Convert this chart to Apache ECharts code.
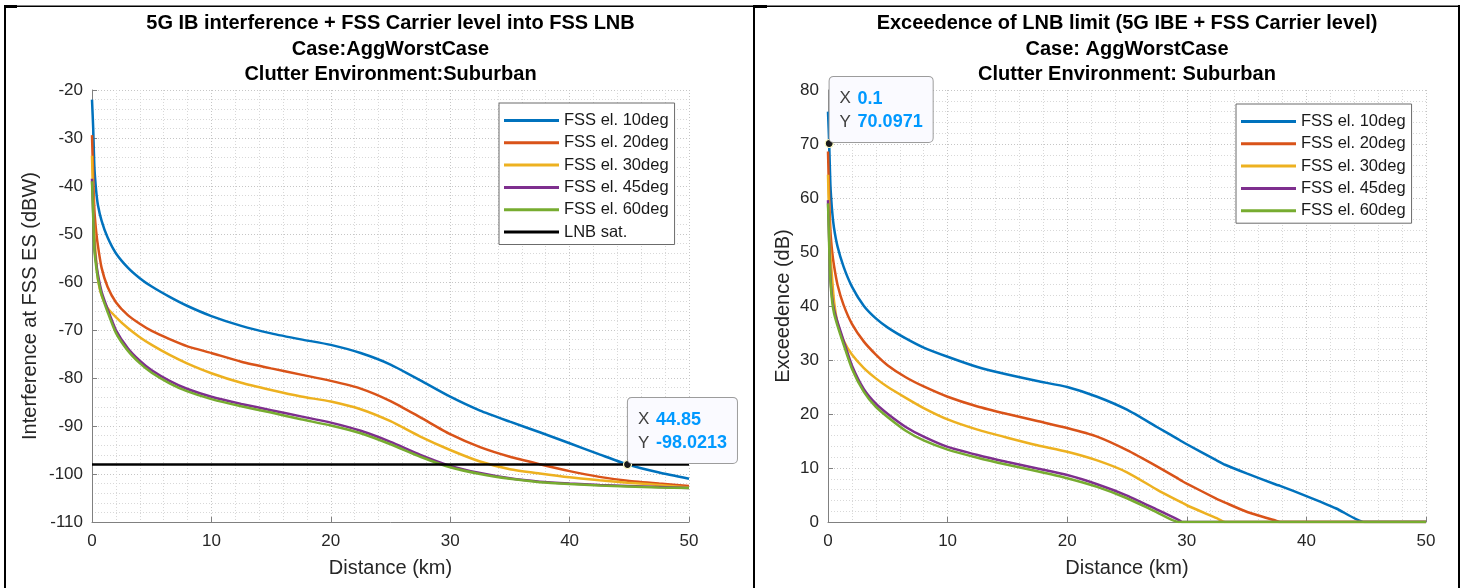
<!DOCTYPE html>
<html>
<head>
<meta charset="utf-8">
<title>5G IB interference and LNB exceedance</title>
<script src="https://cdn.jsdelivr.net/npm/echarts/dist/echarts.min.js"></script>
<style>
  html, body { margin: 0; padding: 0; background: #ffffff; }
  #chart { width: 1467px; height: 588px; }
</style>
</head>
<body>
<div id="chart"></div>
<script>
// ---- Data -------------------------------------------------------------
// Distance from the 5G base stations (km)
const distanceKm = [0, 0.1, 0.2, 0.35, 0.5, 0.8, 1.3, 2, 3, 4, 5, 6.5, 8, 10, 12.5,
  15, 17.5, 20, 22.5, 25, 27.5, 30, 32.5, 35, 37.5, 40, 42.5, 44.85, 47.5, 50];

// 5G IB interference + FSS carrier level at the FSS ES (dBW)
const interfEl10 = [-22, -27.9242, -36, -41.0, -44.0, -47.2, -50.7, -54, -57.0, -59.2, -60.95,
  -63.1, -65.0, -67.1, -69.15, -70.7, -71.95, -73.1, -74.8, -77.2, -80.5, -83.9, -86.8, -89.1,
  -91.3, -93.6, -95.9, -98.0213, -99.7, -101.0];
const interfEl20 = [-29.4, -38, -45, -49.5, -52.5, -57.0, -61.0, -64.2, -66.9, -68.7, -70.2,
  -71.9, -73.4, -74.8, -76.6, -78.0, -79.3, -80.6, -82.2, -84.8, -88.2, -91.7, -94.4, -96.4,
  -97.95, -99.4, -100.6, -101.4, -102.0, -102.5];
const interfEl30 = [-33.7, -43, -50, -55.5, -59.5, -62.8, -65.4, -67.3, -69.6, -71.5, -73.1,
  -75.2, -77.0, -79.0, -81.0, -82.5, -83.85, -84.9, -86.5, -89.0, -92.2, -95.0, -97.4, -99.0,
  -99.9, -100.7, -101.3, -101.8, -102.3, -102.8];
const interfEl45 = [-38.5, -45.5, -52.6, -56, -58.5, -62.0, -65.6, -70.0, -73.8, -76.4, -78.4,
  -80.6, -82.3, -83.9, -85.4, -86.7, -88.0, -89.3, -91.0, -93.3, -96.0, -98.3, -99.8, -100.9,
  -101.6, -102.0, -102.3, -102.5, -102.7, -102.9];
const interfEl60 = [-39, -46.5, -53.3, -56.8, -59.3, -62.6, -66.2, -70.6, -74.3, -76.9, -78.9,
  -81.1, -82.8, -84.4, -85.9, -87.2, -88.6, -89.9, -91.5, -93.8, -96.4, -98.6, -100.0, -101.0,
  -101.7, -102.1, -102.4, -102.6, -102.8, -102.9];

// LNB saturation level (dBW)
const lnbSatLevel = -98.0;

// Distance samples for the exceedance curves (km)
const distanceKmExc = [0, 0.1, 0.2, 0.35, 0.5, 0.8, 1.3, 2, 3, 4, 5, 6.5, 8, 10, 12.5, 15,
  17.5, 20, 22.5, 25, 27.5, 29.3, 29.6, 30, 32.5, 33.2, 35, 37.5, 37.8, 40, 42.5, 44.85, 47.5, 50];

// Exceedance of the LNB limit (dB)
const excEl10 = [76.0, 70.0971, 62.5, 57.5, 54.5, 51.0, 47.3, 43.6, 40.0, 37.7, 36.0, 34.0,
  32.3, 30.6, 28.7, 27.3, 26.1, 25.0, 23.2, 20.8, 17.6, 15.3, 14.9, 14.4, 11.4, 10.6, 9.0,
  6.9, 6.7, 4.8, 2.5, 0, 0, 0];
const excEl20 = [68.6, 60, 54.0, 50.0, 47.5, 43.9, 40.2, 36.7, 33.4, 31.0, 29.0, 26.8,
  25.1, 23.2, 21.4, 20.0, 18.7, 17.4, 15.8, 13.3, 10.3, 8.0, 7.6, 7.1, 4.3, 3.6, 1.9,
  0.2, 0, 0, 0, 0, 0, 0];
const excEl30 = [64.3, 56, 49.5, 45, 41.0, 36.8, 33.6, 31.0, 28.5, 26.6, 25.0, 23.0,
  21.1, 19.0, 17.1, 15.6, 14.2, 13.0, 11.4, 9.2, 6.0, 3.9, 3.6, 3.1, 0.7, 0, 0,
  0, 0, 0, 0, 0, 0, 0];
const excEl45 = [59.6, 52, 45.4, 41.5, 39.4, 37.0, 33.6, 29.0, 24.6, 21.9, 20.0, 17.6,
  15.8, 13.9, 12.4, 11.1, 9.9, 8.7, 7.0, 4.9, 2.3, 0.4, 0, 0, 0, 0, 0,
  0, 0, 0, 0, 0, 0, 0];
const excEl60 = [59.0, 51, 44.7, 40.8, 38.7, 36.3, 32.9, 28.4, 24.1, 21.3, 19.4, 16.9,
  15.1, 13.4, 11.9, 10.6, 9.4, 8.1, 6.5, 4.4, 1.8, 0, 0, 0, 0, 0, 0,
  0, 0, 0, 0, 0, 0, 0];

const seriesNames = ['FSS el. 10deg', 'FSS el. 20deg', 'FSS el. 30deg', 'FSS el. 45deg', 'FSS el. 60deg'];
const lnbName = 'LNB sat.';

// Data tips
const tipInterf = { x: 44.85, y: -98.0213 };
const tipExc = { x: 0.1, y: 70.0971 };

// ---- Styling ------------------------------------------------------------
const FONT = '"Liberation Sans", Arial, Helvetica, sans-serif';
const lineColors = ['#0072BD', '#D95319', '#EDB120', '#7E2F8E', '#77AC30'];
const axisGray = '#808080';
const textDark = '#262626';

function pairs(xs, ys) { return xs.map((x, i) => [x, ys[i]]); }

function xAxisCfg(gridIndex) {
  return {
    type: 'value', gridIndex, min: 0, max: 50, interval: 10,
    name: 'Distance (km)', nameLocation: 'middle', nameGap: 36,
    nameTextStyle: { fontSize: 20, color: textDark, fontFamily: FONT },
    axisLine: { show: true, onZero: false, lineStyle: { color: axisGray, width: 1 } },
    axisTick: { show: true, inside: true, length: 5, lineStyle: { color: axisGray } },
    axisLabel: { color: textDark, fontSize: 17, fontFamily: FONT, margin: 11 },
    splitLine: { show: true, lineStyle: { color: '#c6c6c6', type: [1, 2], width: 1 } },
    minorTick: { show: false, splitNumber: 5 },
    minorSplitLine: { show: true, lineStyle: { color: '#d8d8d8', type: [1, 2], width: 1 } }
  };
}

function yAxisCfg(gridIndex, min, max, name, gap) {
  return {
    type: 'value', gridIndex, min, max, interval: 10,
    name, nameLocation: 'middle', nameGap: gap,
    nameTextStyle: { fontSize: 20, color: textDark, fontFamily: FONT },
    axisLine: { show: true, onZero: false, lineStyle: { color: axisGray, width: 1 } },
    axisTick: { show: true, inside: true, length: 5, lineStyle: { color: axisGray } },
    axisLabel: { color: textDark, fontSize: 17, fontFamily: FONT, margin: 9 },
    splitLine: { show: true, lineStyle: { color: '#c6c6c6', type: [1, 2], width: 1 } },
    minorTick: { show: false, splitNumber: 5 },
    minorSplitLine: { show: true, lineStyle: { color: '#d8d8d8', type: [1, 2], width: 1 } }
  };
}

function lineSeries(name, data, color, axisIdx) {
  return {
    type: 'line', name, data, xAxisIndex: axisIdx, yAxisIndex: axisIdx,
    symbol: 'none', showSymbol: false, clip: true,
    smooth: 0.2,
    lineStyle: { width: 2.5, color }, itemStyle: { color },
    emphasis: { disabled: true }, animation: false
  };
}

function dataTip(pt) {
  return {
    symbol: 'circle', symbolSize: 8, animation: false,
    itemStyle: { color: '#1a1a1a', borderColor: '#ffffc4', borderWidth: 1.2 },
    label: {
      show: true, position: [4, 4], align: 'left', verticalAlign: 'bottom', offset: [1, -1],
      backgroundColor: '#fafaff', borderColor: '#9c9c9c', borderWidth: 1, borderRadius: 4,
      padding: [10, 10, 8, 10],
      formatter: '{k|X}{v|' + pt.x + '}\n{k|Y}{v|' + pt.y + '}',
      rich: {
        k: { width: 18, fontSize: 17, color: '#404040', fontFamily: FONT, lineHeight: 23.5 },
        v: { fontSize: 18, fontWeight: 'bold', color: '#0099ff', fontFamily: FONT, lineHeight: 23.5 }
      }
    },
    data: [{ coord: [pt.x, pt.y] }]
  };
}

function legendCfg(left, top, names) {
  return {
    orient: 'vertical', left, top, data: names,
    icon: 'rect', itemWidth: 55, itemHeight: 3, itemGap: 5.3,
    padding: [9, 6, 4, 5],
    borderColor: '#6b6b6b', borderWidth: 1, backgroundColor: '#ffffff',
    selectedMode: false,
    textStyle: { fontSize: 16.5, color: '#1a1a1a', fontFamily: FONT, lineHeight: 16 }
  };
}

const titleStyle = { fontSize: 20, fontWeight: 'bold', color: '#000000', fontFamily: FONT, lineHeight: 25.5 };

const interfSets = [interfEl10, interfEl20, interfEl30, interfEl45, interfEl60];
const excSets = [excEl10, excEl20, excEl30, excEl45, excEl60];

const series = [];
interfSets.forEach((ys, i) => series.push(lineSeries(seriesNames[i], pairs(distanceKm, ys), lineColors[i], 0)));
series.push(lineSeries(lnbName, [[0, lnbSatLevel], [50, lnbSatLevel]], '#000000', 0));
excSets.forEach((ys, i) => series.push(lineSeries(seriesNames[i], pairs(distanceKmExc, ys), lineColors[i], 1)));
series[0].markPoint = dataTip(tipInterf);
series[6].markPoint = dataTip(tipExc);

const option = {
  backgroundColor: '#ffffff',
  animation: false,
  title: [
    { text: '5G IB interference + FSS Carrier level into FSS LNB\nCase:AggWorstCase\nClutter Environment:Suburban',
      left: 390.5, top: 11, textAlign: 'center', padding: 0, textStyle: titleStyle },
    { text: 'Exceedence of LNB limit (5G IBE + FSS Carrier level)\nCase: AggWorstCase\nClutter Environment: Suburban',
      left: 1127, top: 11, textAlign: 'center', padding: 0, textStyle: titleStyle }
  ],
  grid: [
    { left: 92, top: 90, width: 597, height: 432 },
    { left: 828, top: 90, width: 598, height: 432 }
  ],
  xAxis: [xAxisCfg(0), xAxisCfg(1)],
  yAxis: [
    yAxisCfg(0, -110, -20, 'Interference at FSS ES (dBW)', 52),
    yAxisCfg(1, 0, 80, 'Exceedence (dB)', 35)
  ],
  legend: [
    legendCfg(499, 103, seriesNames.concat([lnbName])),
    legendCfg(1236, 104, seriesNames)
  ],
  // table cell borders around the two panels
  graphic: [
    { type: 'rect', shape: { x: 4, y: 5.5, width: 1456, height: 1.5 }, style: { fill: '#000' } },
    { type: 'rect', shape: { x: 4, y: 5, width: 13, height: 3 }, style: { fill: '#000' } },
    { type: 'rect', shape: { x: 753, y: 5, width: 14, height: 3 }, style: { fill: '#000' } },
    { type: 'rect', shape: { x: 4, y: 5, width: 2, height: 583 }, style: { fill: '#000' } },
    { type: 'rect', shape: { x: 753, y: 5, width: 2, height: 583 }, style: { fill: '#000' } },
    { type: 'rect', shape: { x: 1458, y: 5, width: 2, height: 583 }, style: { fill: '#000' } }
  ],
  series
};

const chart = echarts.init(document.getElementById('chart'), null, { renderer: 'canvas' });
chart.setOption(option);
</script>
</body>
</html>
